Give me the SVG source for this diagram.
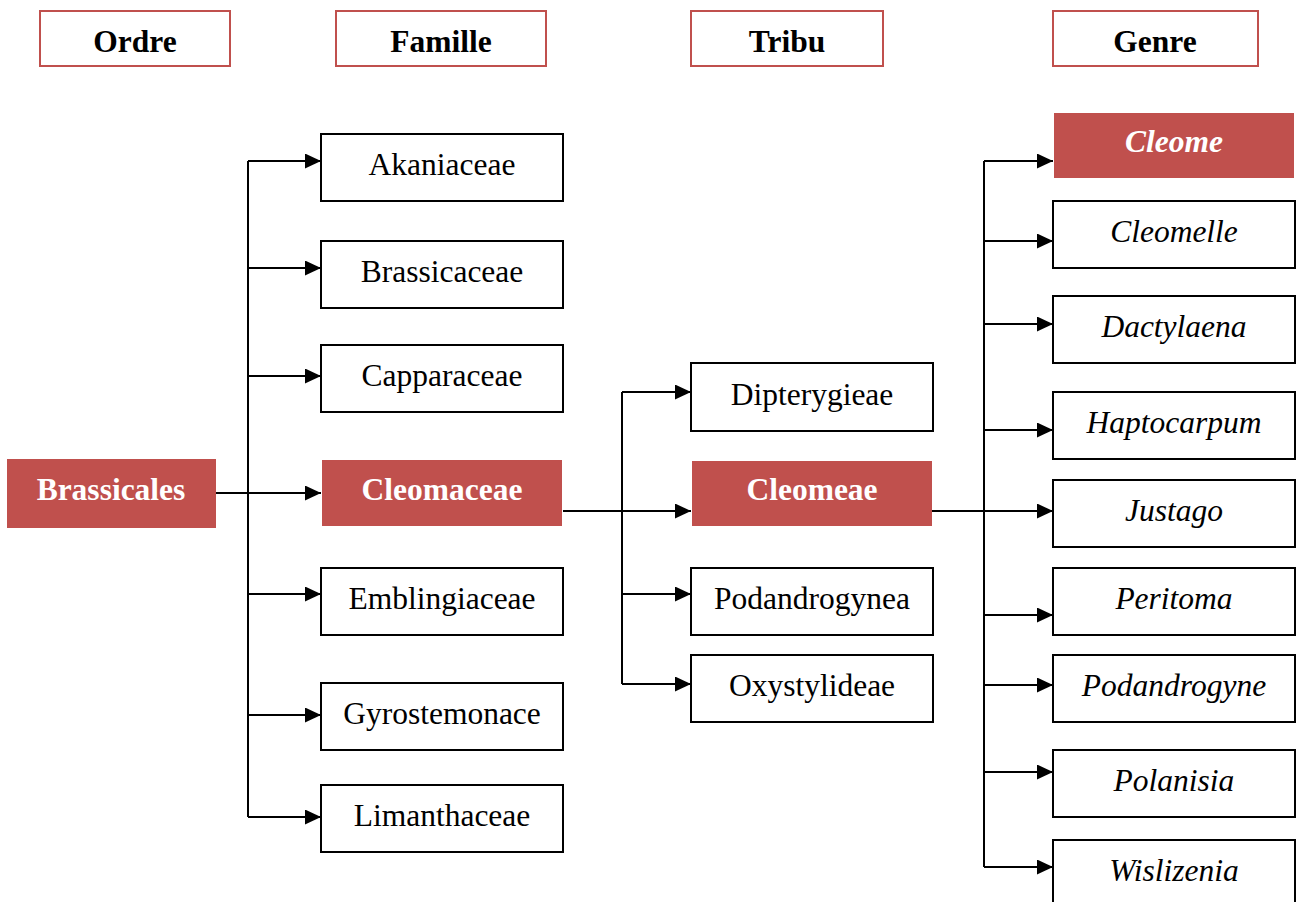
<svg xmlns="http://www.w3.org/2000/svg" width="1297" height="902" viewBox="0 0 1297 902">
  <style>
    .hdr { fill: #ffffff; stroke: #C0504D; stroke-width: 2; }
    .box { fill: #ffffff; stroke: #000000; stroke-width: 2; }
    .sel { fill: #C0504D; stroke: none; }
    text { font-family: "Liberation Serif", "Times New Roman", serif; font-size: 31.5px; text-anchor: middle; fill: #000000; }
    .bold { font-weight: bold; }
    .white { fill: #ffffff; font-weight: bold; }
    .it { font-style: italic; }
    .wit { font-style: italic; font-weight: bold; fill: #ffffff; }
    .ln { stroke: #000000; stroke-width: 2; fill: none; }
  </style>
  <defs>
    <marker id="arrow" markerWidth="8" markerHeight="7.5" refX="8" refY="3.75" orient="auto" markerUnits="strokeWidth">
      <path d="M0,0 L8,3.75 L0,7.5 Z" fill="#000000"/>
    </marker>
  </defs>
  <rect width="1297" height="902" fill="#ffffff"/>

  <!-- column headers -->
  <g id="hdr-ordre"><rect class="hdr" x="40" y="11" width="190" height="55"/><text class="bold" x="135" y="52">Ordre</text></g>
  <g id="hdr-famille"><rect class="hdr" x="336" y="11" width="210" height="55"/><text class="bold" x="441" y="52">Famille</text></g>
  <g id="hdr-tribu"><rect class="hdr" x="691" y="11" width="192" height="55"/><text class="bold" x="787" y="52">Tribu</text></g>
  <g id="hdr-genre"><rect class="hdr" x="1053" y="11" width="205" height="55"/><text class="bold" x="1155" y="52">Genre</text></g>

  <!-- connectors -->
  <g id="connectors">
    <!-- order to families -->
    <path class="ln" d="M248,161 V817"/>
    <path class="ln" d="M248,161 H321" marker-end="url(#arrow)"/>
    <path class="ln" d="M248,268 H321" marker-end="url(#arrow)"/>
    <path class="ln" d="M248,376 H321" marker-end="url(#arrow)"/>
    <path class="ln" d="M215,493 H321" marker-end="url(#arrow)"/>
    <path class="ln" d="M248,594 H321" marker-end="url(#arrow)"/>
    <path class="ln" d="M248,715 H321" marker-end="url(#arrow)"/>
    <path class="ln" d="M248,817 H321" marker-end="url(#arrow)"/>
    <!-- family to tribes -->
    <path class="ln" d="M622,392 V684"/>
    <path class="ln" d="M622,392 H691" marker-end="url(#arrow)"/>
    <path class="ln" d="M563,511 H691" marker-end="url(#arrow)"/>
    <path class="ln" d="M622,594 H691" marker-end="url(#arrow)"/>
    <path class="ln" d="M622,684 H691" marker-end="url(#arrow)"/>
    <!-- tribe to genera -->
    <path class="ln" d="M984,161 V867"/>
    <path class="ln" d="M984,161 H1053" marker-end="url(#arrow)"/>
    <path class="ln" d="M984,241 H1053" marker-end="url(#arrow)"/>
    <path class="ln" d="M984,324 H1053" marker-end="url(#arrow)"/>
    <path class="ln" d="M984,430 H1053" marker-end="url(#arrow)"/>
    <path class="ln" d="M932,511 H1053" marker-end="url(#arrow)"/>
    <path class="ln" d="M984,615 H1053" marker-end="url(#arrow)"/>
    <path class="ln" d="M984,685 H1053" marker-end="url(#arrow)"/>
    <path class="ln" d="M984,772 H1053" marker-end="url(#arrow)"/>
    <path class="ln" d="M984,867 H1053" marker-end="url(#arrow)"/>
  </g>

  <!-- order -->
  <g id="n-brassicales"><rect class="sel" x="7" y="459" width="209" height="69"/><text class="white" x="111" y="500">Brassicales</text></g>

  <!-- families -->
  <g id="n-akaniaceae"><rect class="box" x="321" y="134" width="242" height="67"/><text x="442" y="175">Akaniaceae</text></g>
  <g id="n-brassicaceae"><rect class="box" x="321" y="241" width="242" height="67"/><text x="442" y="282">Brassicaceae</text></g>
  <g id="n-capparaceae"><rect class="box" x="321" y="345" width="242" height="67"/><text x="442" y="386">Capparaceae</text></g>
  <g id="n-cleomaceae"><rect class="sel" x="322" y="460" width="240" height="66"/><text class="white" x="442" y="500">Cleomaceae</text></g>
  <g id="n-emblingiaceae"><rect class="box" x="321" y="568" width="242" height="67"/><text x="442" y="609">Emblingiaceae</text></g>
  <g id="n-gyrostemonace"><rect class="box" x="321" y="683" width="242" height="67"/><text x="442" y="724">Gyrostemonace</text></g>
  <g id="n-limanthaceae"><rect class="box" x="321" y="785" width="242" height="67"/><text x="442" y="826">Limanthaceae</text></g>

  <!-- tribes -->
  <g id="n-dipterygieae"><rect class="box" x="691" y="363" width="242" height="68"/><text x="812" y="405">Dipterygieae</text></g>
  <g id="n-cleomeae"><rect class="sel" x="692" y="461" width="240" height="65"/><text class="white" x="812" y="500">Cleomeae</text></g>
  <g id="n-podandrogynea"><rect class="box" x="691" y="568" width="242" height="67"/><text x="812" y="609">Podandrogynea</text></g>
  <g id="n-oxystylideae"><rect class="box" x="691" y="655" width="242" height="67"/><text x="812" y="696">Oxystylideae</text></g>

  <!-- genera -->
  <g id="n-cleome"><rect class="sel" x="1054" y="113" width="240" height="65"/><text class="wit" x="1174" y="152">Cleome</text></g>
  <g id="n-cleomelle"><rect class="box" x="1053" y="201" width="242" height="67"/><text class="it" x="1174" y="242">Cleomelle</text></g>
  <g id="n-dactylaena"><rect class="box" x="1053" y="296" width="242" height="67"/><text class="it" x="1174" y="337">Dactylaena</text></g>
  <g id="n-haptocarpum"><rect class="box" x="1053" y="392" width="242" height="67"/><text class="it" x="1174" y="433">Haptocarpum</text></g>
  <g id="n-justago"><rect class="box" x="1053" y="480" width="242" height="67"/><text class="it" x="1174" y="521">Justago</text></g>
  <g id="n-peritoma"><rect class="box" x="1053" y="568" width="242" height="67"/><text class="it" x="1174" y="609">Peritoma</text></g>
  <g id="n-podandrogyne"><rect class="box" x="1053" y="655" width="242" height="67"/><text class="it" x="1174" y="696">Podandrogyne</text></g>
  <g id="n-polanisia"><rect class="box" x="1053" y="750" width="242" height="67"/><text class="it" x="1174" y="791">Polanisia</text></g>
  <g id="n-wislizenia"><rect class="box" x="1053" y="840" width="242" height="67"/><text class="it" x="1174" y="881">Wislizenia</text></g>
</svg>
